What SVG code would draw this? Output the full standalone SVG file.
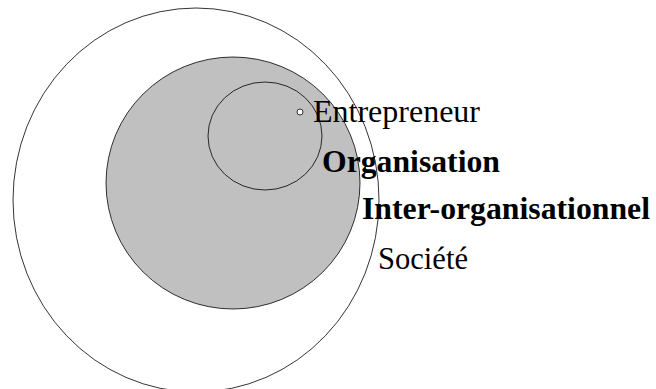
<svg xmlns="http://www.w3.org/2000/svg" width="656" height="389" viewBox="0 0 656 389">
<style>
.ring{stroke:#000;stroke-width:0.8}
.t{font-family:"Liberation Serif","Times New Roman",serif;font-size:31px;fill:#000}
.b{font-weight:bold;font-size:31.5px}
</style>
<rect width="656" height="389" fill="#fff"/>
<g id="societe">
<ellipse class="ring" cx="196" cy="200" rx="183" ry="192" fill="#fff"/>
<text class="t" x="378" y="269" textLength="90" lengthAdjust="spacingAndGlyphs">Société</text>
</g>
<g id="inter-organisationnel">
<ellipse class="ring" cx="233" cy="183" rx="127" ry="126" fill="#c0c0c0"/>
<text class="t b" x="362" y="219" textLength="288" lengthAdjust="spacingAndGlyphs">Inter-organisationnel</text>
</g>
<g id="organisation">
<ellipse class="ring" cx="265" cy="136" rx="57" ry="54" fill="#c0c0c0"/>
<text class="t b" x="322" y="172" textLength="178" lengthAdjust="spacingAndGlyphs">Organisation</text>
</g>
<g id="entrepreneur">
<circle class="ring" cx="300" cy="112" r="3" fill="#fff" stroke-width="0.6"/>
<text class="t" x="313" y="122" textLength="167" lengthAdjust="spacingAndGlyphs">Entrepreneur</text>
</g>
<g id="connectors"/>
</svg>
